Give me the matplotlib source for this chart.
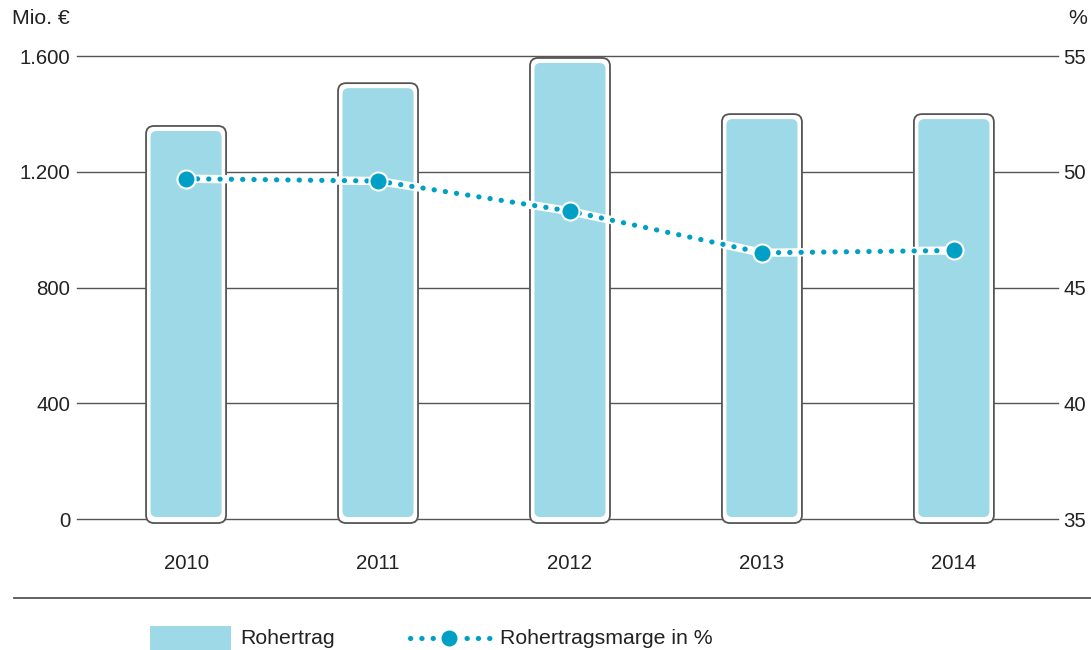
import matplotlib
matplotlib.use("Agg")
import matplotlib.pyplot as plt
from matplotlib.patches import FancyBboxPatch, Rectangle
from matplotlib.lines import Line2D

plt.rcParams['font.family'] = ['Liberation Sans', 'DejaVu Sans']

# Daten
jahre = ['2010', '2011', '2012', '2013', '2014']
rohertrag = [1341, 1489, 1576, 1382, 1382]          # Mio. €
marge = [49.7, 49.6, 48.3, 46.5, 46.6]              # %
links_ticks = [0, 400, 800, 1200, 1600]
links_labels = ['0', '400', '800', '1.200', '1.600']
rechts_ticks = [35, 40, 45, 50, 55]

hellblau = '#9dd9e6'
blau = '#00a0c6'
grau = '#555555'
text_col = '#222222'
fs_tick = 14.7
fs_text = 15.3
punkte = (0, (0.05, 2.15))

fig = plt.figure(figsize=(10.91, 6.5), dpi=100)
ax = fig.add_axes([0.0706, 0.2015, 0.8991, 0.7123])
xmin, xmax = -0.568, 4.542
ax.set_xlim(xmin, xmax)
ax.set_ylim(0, 1600)

# pixel -> daten umrechnung für abgerundete balken
ax_w_px = 0.8991 * 1091
ax_h_px = 0.7123 * 650
px_x = (xmax - xmin) / ax_w_px
px_y = 1600 / ax_h_px
aspect = px_y / px_x

for s in ax.spines.values():
    s.set_visible(False)
ax.set_yticks(links_ticks)
ax.set_yticklabels(links_labels)
for t in links_ticks:
    ax.axhline(t, color=grau, lw=1.0, zorder=1, clip_on=False)
ax.set_xticks(range(len(jahre)))
ax.set_xticklabels(jahre)
ax.tick_params(axis='y', length=0, pad=5, labelsize=fs_tick, labelcolor=text_col)
ax.tick_params(axis='x', length=0, pad=25, labelsize=fs_tick, labelcolor=text_col)

w_aussen = 80 * px_x
w_innen = 71 * px_x
for i, v in enumerate(rohertrag):
    aussen = FancyBboxPatch((i - w_aussen / 2, -4 * px_y), w_aussen, v + 9 * px_y,
                            boxstyle="round,pad=0,rounding_size=%f" % (8 * px_x),
                            mutation_aspect=aspect, facecolor='white',
                            edgecolor=grau, lw=1.3, zorder=2, clip_on=False)
    ax.add_patch(aussen)
    innen = FancyBboxPatch((i - w_innen / 2, 2 * px_y), w_innen, v - 2 * px_y,
                           boxstyle="round,pad=0,rounding_size=%f" % (6 * px_x),
                           mutation_aspect=aspect, facecolor=hellblau,
                           edgecolor='none', zorder=3, clip_on=False)
    ax.add_patch(innen)

ax2 = ax.twinx()
ax2.set_ylim(35, 55)
ax2.set_yticks(rechts_ticks)
for s in ax2.spines.values():
    s.set_visible(False)
ax2.tick_params(axis='y', length=0, pad=4, labelsize=fs_tick, labelcolor=text_col)

x = list(range(len(jahre)))
ax2.plot(x, marge, color='white', lw=6, solid_capstyle='round', zorder=3)
ax2.plot(x, marge, color=blau, lw=3.7, linestyle=punkte,
         dash_capstyle='round', zorder=4)
ax2.plot(x, marge, linestyle='none', marker='o', ms=13, mfc=blau,
         mec='white', mew=1.5, zorder=5)

# Achsentitel
fig.text(0.011, 0.972, 'Mio. €', fontsize=fs_text, color=text_col, va='center', ha='left')
fig.text(0.9963, 0.972, '%', fontsize=fs_text, color=text_col, va='center', ha='right')

# Trennlinie
fig.add_artist(Line2D([14 / 1091, 1], [1 - 598 / 650] * 2, color=grau, lw=1.3))

# Legende
fig.add_artist(Rectangle((150 / 1091, 0), 81 / 1091, 24 / 650,
                         facecolor=hellblau, edgecolor='none'))
ly = 1 - 638 / 650
fig.text(240 / 1091, ly, 'Rohertrag', fontsize=fs_text, color=text_col,
         va='center', ha='left')
fig.add_artist(Line2D([410 / 1091, 492 / 1091], [ly, ly], color=blau, lw=3.7,
                      linestyle=punkte, dash_capstyle='round'))
fig.add_artist(Line2D([449 / 1091], [ly], linestyle='none', marker='o', ms=13,
                      mfc=blau, mec='white', mew=1.5))
fig.text(500 / 1091, ly, 'Rohertragsmarge in %', fontsize=fs_text, color=text_col,
         va='center', ha='left')

fig.savefig('out.png', dpi=100)
